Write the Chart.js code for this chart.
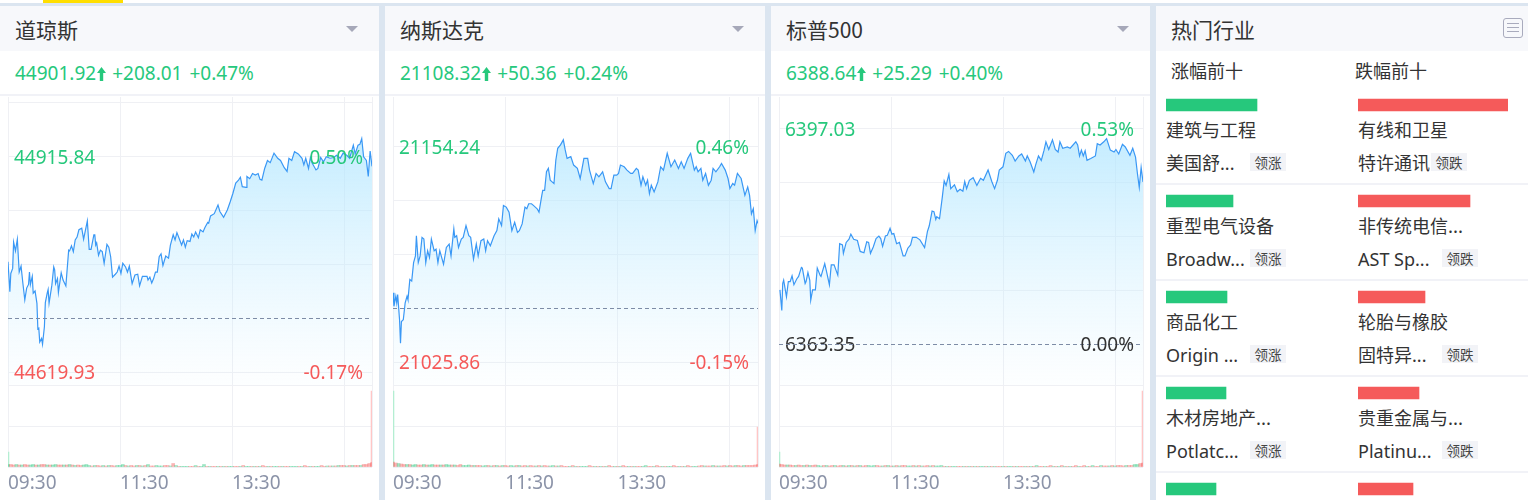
<!DOCTYPE html>
<html>
<head>
<meta charset="utf-8">
<title>行情</title>
<script src="https://cdn.jsdelivr.net/npm/chart.js@4"></script>
<style>
  html, body { margin: 0; padding: 0; width: 1528px; height: 500px; overflow: hidden; background: #dbe5f0; }
  body { position: relative; font-family: "Noto Sans", "Noto Sans CJK SC", sans-serif; color: #333; }
  .topstrip { position: absolute; left: 0; top: 0; width: 1528px; height: 3px; background: #fff; }
  .topstrip i { position: absolute; left: 43px; top: 0; width: 80px; height: 3px; background: #ffde00; }
  .panel { position: absolute; top: 6px; height: 494px; background: #fff; overflow: hidden; }
  .head { position: absolute; left: 0; right: 0; top: 0; height: 45px; background: #f7f8fb; font-family: "Noto Sans CJK SC", sans-serif; font-size: 21px; line-height: 46px; padding-left: 15px; }
  .caret { position: absolute; top: 20px; width: 0; height: 0; border-left: 6px solid transparent; border-right: 6px solid transparent; border-top: 6px solid #a6a8b9; }
  .quote { position: absolute; left: 15px; top: 45px; height: 43px; line-height: 44px; font-size: 19px; color: #26c87c; white-space: nowrap; }
  .quote svg { vertical-align: -1px; margin: 0 6px 0 1px; }
  .quote span { margin-right: 7px; }
  .rule { position: absolute; left: 0; right: 0; top: 88px; height: 2px; background: #f1f2f7; }
  canvas { position: absolute; display: block; pointer-events: none; }
  .listicon { position: absolute; left: 347px; top: 12px; width: 18px; height: 18px; border: 1.5px solid #a9abbd; border-radius: 3px; box-sizing: content-box; }
  .listicon b { position: absolute; left: 3px; width: 12px; height: 1px; background: #a9abbd; }
  .t { position: absolute; white-space: nowrap; font-family: "Noto Sans CJK SC", sans-serif; font-size: 18px; line-height: 24px; color: #333; }
  .l { font-family: "Noto Sans", "Noto Sans CJK SC", sans-serif; }
  .tag { position: absolute; width: 36px; height: 18px; line-height: 18px; text-align: center; background: #f2f3f7; font-family: "Noto Sans CJK SC", sans-serif; font-size: 13.5px; color: #444; }
  .sep { position: absolute; left: 0; right: 0; height: 2px; background: #f1f2f7; }
</style>
</head>
<body>
<div class="topstrip"><i></i></div>
<div id="page"></div>
<script>
// minutes after 09:30 and index level for each line
const dowMinutes = [0,2,3,5,6,8,10,12,14,16,18,20,22,23,24,26,27,29,31,32,33,34,36,37,39,40,42,43,44,47,49,50,51,53,54,57,59,62,65,66,68,70,72,74,76,79,81,85,87,89,92,93,94,95,97,99,101,103,106,108,110,112,115,117,119,121,123,126,128,130,133,136,139,141,144,149,150,152,154,156,158,160,162,164,166,169,172,174,177,179,181,184,186,188,190,192,195,197,199,201,204,206,209,211,214,215,217,221,225,227,231,235,238,241,244,247,249,251,255,256,259,262,265,268,270,272,275,278,281,285,289,292,296,299,301,304,307,311,315,317,319,322,324,326,330,332,335,338,341,345,349,352,356,359,363,366,370,372,375,377,379,381,384,386,388,390]
const dowValues = [44771,44730,44755,44762,44798,44786,44802,44757,44765,44741,44719,44735,44740,44757,44740,44751,44728,44731,44714,44679,44680,44661,44666,44658,44682,44715,44728,44733,44714,44739,44764,44760,44741,44748,44729,44756,44746,44738,44787,44786,44793,44785,44801,44805,44815,44817,44802,44827,44788,44788,44808,44808,44794,44797,44780,44787,44785,44769,44795,44791,44778,44750,44754,44757,44765,44755,44769,44764,44757,44765,44741,44753,44754,44738,44751,44751,44746,44750,44742,44748,44757,44757,44778,44782,44766,44779,44776,44794,44808,44801,44811,44801,44794,44801,44791,44800,44799,44809,44805,44812,44804,44815,44812,44818,44825,44824,44834,44837,44849,44840,44832,44842,44853,44865,44879,44883,44887,44874,44873,44888,44885,44892,44890,44892,44884,44883,44899,44910,44907,44920,44913,44910,44900,44895,44913,44910,44922,44919,44913,44904,44913,44899,44914,44906,44897,44899,44914,44908,44915,44913,44914,44917,44913,44920,44917,44913,44931,44919,44931,44932,44940,44915,44910,44888,44923,44901.92]

const nasMinutes = [0,1,3,4,5,7,8,9,11,13,15,16,18,20,22,24,25,27,29,31,33,35,37,39,41,44,46,48,50,51,54,57,60,62,65,66,68,70,73,75,78,81,83,86,89,91,94,97,99,101,104,108,111,113,116,118,121,124,127,130,133,135,138,141,143,145,148,150,152,154,156,159,160,162,164,166,168,170,172,174,176,179,182,184,186,190,193,197,200,204,208,210,214,217,220,224,227,231,233,236,239,241,243,247,250,254,256,260,262,265,267,270,272,274,276,279,283,286,289,293,297,301,305,308,311,315,318,322,324,326,329,331,334,337,340,342,345,349,351,355,358,360,363,365,368,372,376,379,381,383,385,387,389,390]
const nasValues = [21067,21059,21065,21061,21066,21051,21037,21050,21051,21061,21065,21063,21075,21074,21085,21089,21101,21085,21089,21100,21099,21085,21092,21088,21099,21092,21093,21085,21092,21090,21084,21094,21096,21089,21105,21100,21101,21094,21099,21100,21107,21101,21100,21087,21096,21089,21098,21099,21092,21098,21095,21101,21104,21111,21107,21119,21118,21115,21104,21109,21103,21104,21108,21118,21117,21120,21120,21119,21118,21117,21115,21125,21128,21128,21139,21141,21134,21133,21132,21146,21153,21155,21158,21152,21147,21148,21143,21141,21135,21147,21147,21140,21132,21138,21136,21139,21133,21129,21129,21137,21137,21138,21143,21142,21140,21138,21138,21141,21140,21131,21136,21131,21134,21126,21131,21127,21133,21142,21140,21150,21142,21146,21141,21145,21141,21147,21150,21140,21142,21139,21141,21134,21138,21131,21134,21141,21139,21142,21144,21140,21135,21129,21132,21131,21138,21135,21125,21130,21125,21114,21117,21104,21110,21108.32]

const spxMinutes = [1,3,4,5,8,10,12,14,16,19,21,24,25,28,29,31,33,34,36,39,41,44,45,49,51,54,56,59,63,65,68,69,72,75,77,80,84,87,91,94,96,98,101,104,107,109,111,114,116,119,121,123,126,129,133,135,138,141,143,147,151,156,159,161,164,166,168,169,172,175,177,179,182,184,188,191,194,197,199,201,204,208,212,216,219,224,228,231,234,236,240,243,246,250,253,257,260,264,266,269,273,275,278,281,284,286,289,293,296,299,301,304,309,312,318,320,322,324,326,328,330,334,339,341,344,348,351,355,359,361,364,368,371,376,379,382,384,386,388,390]
const spxValues = [6371.8,6368.6,6372.8,6373.3,6370.7,6373.1,6373.1,6374,6372.6,6373.5,6373.9,6375.3,6375.2,6372.8,6373.1,6374.5,6373.3,6370.2,6371.8,6371.8,6375.2,6374.1,6373.9,6375.9,6374.6,6372.6,6375.7,6375.7,6374.1,6379,6378.8,6377.5,6379.2,6379.7,6380.5,6379.7,6379.5,6377.8,6377.6,6379.3,6379.2,6377.5,6378.5,6379.8,6380.2,6379.8,6378.6,6380.2,6380.3,6381.4,6380.5,6380.6,6379,6379.2,6377.1,6377.1,6378.3,6378.8,6380,6380,6379.6,6378.4,6380.9,6381.8,6384.1,6384,6382.8,6383.2,6382.9,6386.3,6388.8,6388.1,6389.8,6387.6,6388.2,6387.1,6387.5,6387.2,6388.7,6387.6,6388.9,6389.3,6388.1,6389.2,6388.9,6390.5,6388.7,6387.6,6388.9,6390.5,6391,6393.1,6393.4,6392.8,6391.9,6392.7,6393,6391.9,6392.7,6391.8,6390.2,6391.3,6392.7,6392,6393.6,6394.9,6393.7,6395.2,6393.7,6393.3,6394.9,6393.9,6394.1,6393.9,6394.9,6394.4,6392.7,6393.6,6392.7,6393.5,6392,6392.3,6392.7,6394.6,6394.4,6394.9,6395.4,6393.6,6393.3,6393.7,6393,6394.5,6394.1,6392.8,6393.9,6392.5,6390,6387.8,6390.9,6388.64]

// y axis ticks: prior close is the 0.00% one
const dowTicks = [44989.83, 44915.84, 44841.87, 44767.89, 44693.91, 44619.93]
const dowLeftLabels = ['', '44915.84', '', '', '', '44619.93']
const dowRightLabels = ['', '0.50%', '', '', '', '-0.17%']
const dowTickColors = ['#26c87c', '#26c87c', '#26c87c', '#26c87c', '#333', '#f55a5a']

const nasTicks = [21154.24, 21122.15, 21090.05, 21057.96, 21025.86]
const nasLeftLabels = ['21154.24', '', '', '', '21025.86']
const nasRightLabels = ['0.46%', '', '', '', '-0.15%']
const nasTickColors = ['#26c87c', '#26c87c', '#26c87c', '#333', '#f55a5a']

const spxTicks = [6397.03, 6388.61, 6380.19, 6371.77, 6363.35]
const spxLeftLabels = ['6397.03', '', '', '', '6363.35']
const spxRightLabels = ['0.53%', '', '', '', '0.00%']
const spxTickColors = ['#26c87c', '#26c87c', '#26c87c', '#26c87c', '#333']

const timeTicks = [0, 120, 240, 360, 390]
const timeLabels = ['09:30', '11:30', '13:30', '', '']

// volume per 3 minute block, g/r is the side of that block
const dowVolumes = [2.5,2.5,2,2.5,2,2,2.5,2,2,2.5,2,2,2.5,2.5,2,2,2,2.5,2,2,2,2,2.5,2,1.5,2,1.5,2,2.5,1.5,1,1.5,1.5,1,1.5,1,1.5,1.5,1,1.5,1.5,2.5,1.5,1,1.5,1,1.5,1.5,1,1.5,2.5,1,1,1.5,1,1,1.5,1.5,1,3.5,1.5,.7,.7,.7,.7,.7,.7,1.5,.7,.7,2.5,.7,.7,.7,.7,.7,.7,.7,.7,.7,.7,.7,.7,.7,1.5,.7,.7,.7,.7,.7,.7,1.5,.7,.7,.7,.7,.7,.7,.7,.7,.7,.7,.7,.7,.7,.7,1.5,.7,.7,.7,.7,.7,1.5,.7,1,1,1,1,1.5,1.5,1.5,1,1.5,1.5,1.5,1.5,1.5,2.5,2.5,3.5,4.5]
const dowVolSides = 'grrgrgrrggrgrrgrggrrgrgrgrrgggrgrrgrgrrgggrgrrgrgrgrrgggrrgrgrgggrrgrggrgrrgrgrggrrgrggrgrgrrgrggrgrrgggrgrrgrggrrgrgrgrrgrgrrgr'
const nasVolumes = [5,4,3.5,3,2.5,2.5,2.5,2,2.5,2,2,2.5,2,2,2.5,2,2,2,2,2.5,2,2,2,1.5,2.5,1.5,1.5,2,1.5,1.5,1.5,1.5,1,1.5,1.5,1,1.5,1.5,1,1.5,1.5,1,1.5,1,1.5,1.5,1,1.5,1,1.5,1,1,1.5,1,1.5,1,1,1.5,1,1,1.5,.7,.7,.7,1.5,.7,.7,.7,.7,.7,1.5,.7,.7,.7,.7,.7,.7,1.5,.7,.7,.7,.7,1.5,.7,.7,.7,.7,.7,.7,.7,1.5,.7,.7,.7,1.5,.7,.7,.7,.7,.7,1.5,.7,.7,.7,.7,1.5,.7,.7,.7,1,1.5,1,1,1,1.5,1,1,1,1.5,1,1.5,1,1.5,1.5,1,1.5,1.5,1.5,1.5,2,2.5]
const nasVolSides = 'rrgrrgrggrrgrggrrgrggrgrrgggrgrrggrgrgrgrrggrgrrgrrgrgrrggrgrrrgrgrgggrrgrgrgrrgrgrrgrgrrggrrgrrgrggrrgrgrrggrrgrrgrgrrgrrgrrgr'
const spxVolumes = [3,2.5,2,2,2,1.5,1.5,2,1.5,1.5,2,1.5,1.5,2,1.5,1,1.5,1.5,1,1.5,1.5,1,1.5,1.5,1,1.5,1.5,1,1.5,1.5,1,1.5,1.5,1,1.5,1.5,1,1,1.5,1.5,1,1,1.5,1,1.5,1.5,1,1,1.5,1,1.5,1,1,1.5,1,1.5,1,1,1.5,.7,.7,.7,.7,.7,.7,.7,.7,.7,.7,.7,.7,.7,.7,.7,.7,.7,.7,.7,.7,.7,.7,.7,.7,.7,.7,.7,.7,.7,.7,.7,.7,.7,1.5,.7,.7,.7,.7,1.5,.7,.7,.7,1.5,.7,.7,.7,.7,1.5,.7,.7,1.5,.7,.7,1.5,.7,.7,1.5,1,1,1,1.5,1,1.5,1.5,1,1.5,1.5,1.5,2.5,2.5,3.5,4]
const spxVolSides = 'rrrgrrgrrgrgrrggrgrrgrrgrgrgrgrrgggrrgrgrgrgrrggrgrgrrgrgggrgrggrrgrgrgrggrgrgrrgrggrgrrgrgrgrrgrrgrgrgrgrrgrrgrgrrgrrgrgrrrgrrgg'

const dowOpenVolume = 15
const dowCloseVolume = 76
const nasOpenVolume = 76
const nasCloseVolume = 40
const spxOpenVolume = 15
const spxCloseVolume = 76

// bars of the industry list, lengths relative to the longest one
const upBars = [91, 67, 61, 60, 50]
const downBars = [150, 112, 67, 61, 55]
const rowCategories = ['1', '2', '3', '4', '5']
const upNames = ['建筑与工程', '重型电气设备', '商品化工', '木材房地产...']
const upStocks = ['美国舒...', 'Broadw...', 'Origin ...', 'Potlatc...']
const downNames = ['有线和卫星', '非传统电信...', '轮胎与橡胶', '贵重金属与...']
const downStocks = ['特许通讯', 'AST Sp...', '固特异...', 'Platinu...']

const GREEN = '#26c87c'
const RED = '#f55a5a'
const GRID = '#eff0f4'
const FONT = '"Noto Sans", "Noto Sans CJK SC", sans-serif'

const panels = [
  { name: '道琼斯', left: 0, width: 379, plotWidth: 364, caret: 346, last: '44901.92', change: '+208.01', pct: '+0.47%',
    minutes: dowMinutes, values: dowValues, ticks: dowTicks, leftLabels: dowLeftLabels, rightLabels: dowRightLabels, colors: dowTickColors,
    base: 44693.91, min: 44602.12, max: 44996.98,
    volumes: dowVolumes, sides: dowVolSides, openVolume: dowOpenVolume, closeVolume: dowCloseVolume },
  { name: '纳斯达克', left: 385, width: 380, plotWidth: 365, caret: 347, last: '21108.32', change: '+50.36', pct: '+0.24%',
    minutes: nasMinutes, values: nasValues, ticks: nasTicks, leftLabels: nasLeftLabels, rightLabels: nasRightLabels, colors: nasTickColors,
    base: 21057.96, min: 21012.20, max: 21183.48,
    volumes: nasVolumes, sides: nasVolSides, openVolume: nasOpenVolume, closeVolume: nasCloseVolume },
  { name: '标普500', left: 771, width: 379, plotWidth: 364, caret: 346, last: '6388.64', change: '+25.29', pct: '+0.40%',
    minutes: spxMinutes, values: spxValues, ticks: spxTicks, leftLabels: spxLeftLabels, rightLabels: spxRightLabels, colors: spxTickColors,
    base: 6363.35, min: 6356.96, max: 6401.89,
    volumes: spxVolumes, sides: spxVolSides, openVolume: spxOpenVolume, closeVolume: spxCloseVolume }
]

Chart.defaults.font.family = FONT
Chart.defaults.animation = false
Chart.defaults.plugins.legend.display = false
Chart.defaults.plugins.tooltip.enabled = false

const page = document.getElementById('page')

function addCanvas(parent, left, top, width, height) {
  const canvas = document.createElement('canvas')
  canvas.width = width
  canvas.height = height
  canvas.style.left = left + 'px'
  canvas.style.top = top + 'px'
  canvas.style.width = width + 'px'
  canvas.style.height = height + 'px'
  parent.appendChild(canvas)
  return canvas
}

function fillGradient(context) {
  const area = context.chart.chartArea
  if (!area) return 'transparent'
  const gradient = context.chart.ctx.createLinearGradient(0, area.top, 0, area.bottom)
  gradient.addColorStop(0, 'rgba(170, 228, 255, 0.85)')
  gradient.addColorStop(1, 'rgba(210, 240, 255, 0.05)')
  return gradient
}

// the axes sit on the plot, so take their label room out of the layout
function noRoom(axis, height, width) {
  axis.height = height
  axis.width = width
  axis.paddingTop = 0
  axis.paddingBottom = 0
  axis.paddingLeft = 0
  axis.paddingRight = 0
}

function timeAxis(showLabels) {
  return {
    type: 'linear',
    min: 0,
    max: 390,
    offset: false,
    border: { display: false },
    grid: { color: GRID, lineWidth: 1, drawTicks: false, offset: false },
    afterBuildTicks: axis => { axis.ticks = timeTicks.map(v => ({ value: v })) },
    afterFit: axis => noRoom(axis, showLabels ? 33 : 0, axis.width),
    ticks: {
      display: showLabels,
      autoSkip: false,
      maxRotation: 0,
      align: 'start',
      padding: 5,
      color: '#8b93a8',
      font: { size: 19 },
      callback: (value, index) => timeLabels[index]
    }
  }
}

function drawLine(canvas, p) {
  const isBase = ctx => p.ticks[ctx.index] === p.base
  const yScale = {
    type: 'linear',
    min: p.min,
    max: p.max,
    afterBuildTicks: axis => { axis.ticks = p.ticks.map(v => ({ value: v })) },
    afterFit: axis => noRoom(axis, axis.height, 0)
  }
  return new Chart(canvas, {
    type: 'line',
    data: {
      datasets: [{
        data: p.minutes.map((m, i) => ({ x: m, y: p.values[i] })),
        borderColor: '#3a98f5',
        borderWidth: 1.2,
        pointRadius: 0,
        tension: 0,
        fill: 'start',
        backgroundColor: fillGradient
      }]
    },
    options: {
      responsive: false,
      layout: { padding: { left: 8, right: p.width - 8 - p.plotWidth, top: 0, bottom: 0 } },
      scales: {
        x: timeAxis(false),
        y: Object.assign({}, yScale, {
          position: 'left',
          border: { display: false },
          grid: { color: ctx => isBase(ctx) ? 'transparent' : GRID, drawTicks: false },
          ticks: {
            z: 1, mirror: true, padding: 6, labelOffset: 2, autoSkip: false, font: { size: 19 },
            color: ctx => p.colors[ctx.index],
            callback: (value, index) => p.leftLabels[index]
          }
        }),
        yRight: Object.assign({}, yScale, {
          position: 'right',
          border: { display: false, dash: [4, 3] },
          grid: { z: 1, color: ctx => isBase(ctx) ? '#7d8ca6' : 'transparent', drawTicks: false },
          ticks: {
            z: 1, mirror: true, padding: -9, labelOffset: 2, autoSkip: false, font: { size: 19 },
            color: ctx => p.colors[ctx.index],
            callback: (value, index) => p.rightLabels[index]
          }
        })
      }
    }
  })
}

function drawVolume(canvas, p) {
  const sideColor = i => p.sides[i] === 'g' ? 'rgba(38, 200, 124, 0.45)' : 'rgba(245, 90, 90, 0.45)'
  return new Chart(canvas, {
    type: 'bar',
    data: {
      datasets: [{
        data: p.volumes.map((v, i) => ({ x: i * 3, y: v })),
        backgroundColor: ctx => sideColor(ctx.dataIndex),
        barThickness: 3,
        grouped: false
      }, {
        data: [{ x: 0.5, y: p.openVolume }, { x: 389.5, y: p.closeVolume }],
        backgroundColor: ['#b4eed2', '#ffc6c6'],
        barThickness: 1,
        grouped: false
      }]
    },
    options: {
      responsive: false,
      layout: { padding: { left: 8, right: p.width - 8 - p.plotWidth, top: 1, bottom: 0 } },
      scales: {
        x: timeAxis(true),
        y: {
          type: 'linear',
          min: 0,
          max: 82,
          border: { display: false },
          grid: { color: GRID, drawTicks: false },
          afterBuildTicks: axis => { axis.ticks = [{ value: 0 }, { value: 41 }, { value: 82 }] },
          afterFit: axis => noRoom(axis, axis.height, 0),
          ticks: { display: false }
        }
      }
    }
  })
}

panels.forEach(p => {
  const el = document.createElement('div')
  el.className = 'panel'
  el.style.left = p.left + 'px'
  el.style.width = p.width + 'px'
  el.innerHTML = '<div class="head">' + p.name + '<div class="caret" style="left:' + p.caret + 'px"></div></div>' +
    '<div class="quote">' + p.last +
    '<svg width="9" height="14" viewBox="0 0 9 14"><path d="M4.5 0 L9 6 L6.2 6 L6.2 14 L2.8 14 L2.8 6 L0 6 Z" fill="' + GREEN + '"/></svg>' +
    '<span>' + p.change + '</span>' + p.pct + '</div><div class="rule"></div>'
  page.appendChild(el)
  drawLine(addCanvas(el, 0, 91, p.width, 288), p)
  drawVolume(addCanvas(el, 0, 378, p.width, 116), p)
})

// hot industries column
const side = document.createElement('div')
side.className = 'panel'
side.style.left = '1156px'
side.style.width = '372px'
side.innerHTML = '<div class="head">热门行业<div class="listicon"><b style="top:4px"></b><b style="top:8px"></b><b style="top:12px"></b></div></div>' +
  '<div class="t" style="left:15px;top:52px">涨幅前十</div><div class="t" style="left:199px;top:52px">跌幅前十</div>'
page.appendChild(side)

upNames.forEach((name, i) => {
  const rowTop = i * 96
  const downTagLeft = i === 0 ? 275 : 286
  side.insertAdjacentHTML('beforeend',
    '<div class="t" style="left:10px;top:' + (111 + rowTop) + 'px">' + name + '</div>' +
    '<div class="t l" style="left:10px;top:' + (145 + rowTop) + 'px">' + upStocks[i] + '</div>' +
    '<div class="tag" style="left:94px;top:' + (147 + rowTop) + 'px">领涨</div>' +
    '<div class="t" style="left:202px;top:' + (111 + rowTop) + 'px">' + downNames[i] + '</div>' +
    '<div class="t l" style="left:202px;top:' + (145 + rowTop) + 'px">' + downStocks[i] + '</div>' +
    '<div class="tag" style="left:' + downTagLeft + 'px;top:' + (147 + rowTop) + 'px">领跌</div>' +
    '<div class="sep" style="top:' + (177 + rowTop) + 'px"></div>')
})

function drawIndustryBars(left, values, color) {
  return new Chart(addCanvas(side, left, 51, 152, 480), {
    type: 'bar',
    data: {
      labels: rowCategories,
      datasets: [{ data: values, backgroundColor: color, barThickness: 12 }]
    },
    options: {
      indexAxis: 'y',
      responsive: false,
      layout: { padding: { right: 2 } },
      scales: {
        x: { display: false, min: 0, max: 150 },
        y: { display: false }
      }
    }
  })
}

drawIndustryBars(10, upBars, GREEN)
drawIndustryBars(202, downBars, RED)
</script>
</body>
</html>
